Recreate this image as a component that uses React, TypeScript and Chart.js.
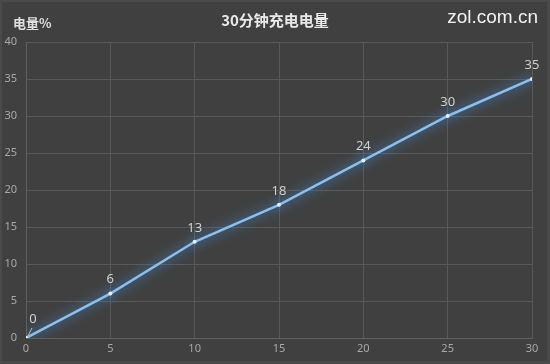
import React, { useEffect, useRef } from "react";
import { Chart, registerables } from "chart.js";

Chart.register(...registerables);

const minutes = [0, 5, 10, 15, 20, 25, 30];
const charge = [0, 6, 13, 18, 24, 30, 35];
const titleText = "30分钟充电电量";
const yLabel = "电量%";
const watermark = "zol.com.cn";

export default function App() {
  const ref = useRef<HTMLCanvasElement>(null);
  useEffect(() => {
    document.body.style.margin = "0";
    const canvas = ref.current!;
    const bgPlugin = {
      id: "bg",
      beforeDraw(chart: any) {
        const ctx = chart.ctx;
        ctx.save();
        ctx.fillStyle = "#4a4a4a";
        ctx.fillRect(0, 0, chart.width, chart.height);
        ctx.fillStyle = "#404040";
        ctx.fillRect(2, 2, chart.width - 5, chart.height - 5);
        ctx.restore();
      },
      afterDraw(chart: any) {
        const ctx = chart.ctx;
        ctx.save();
        ctx.fillStyle = "#e8e8e8";
        ctx.textBaseline = "middle";
        ctx.textAlign = "center";
        ctx.font = "bold 15px 'Noto Sans CJK SC', sans-serif";
        ctx.fillText(titleText, 275, 20);
        ctx.textAlign = "left";
        ctx.font = "bold 13px 'Noto Sans CJK SC', sans-serif";
        ctx.fillStyle = "#e0e0e0";
        ctx.fillText(yLabel, 13, 23);
        ctx.font = "19px 'Liberation Sans', Arial, sans-serif";
        ctx.fillStyle = "#f2f2f2";
        ctx.textAlign = "right";
        ctx.fillText(watermark, 538, 18);
        // data labels
        const meta = chart.getDatasetMeta(0);
        ctx.font = "13px 'Noto Sans', sans-serif";
        ctx.fillStyle = "#d0d0d0";
        ctx.textAlign = "center";
        meta.data.forEach((pt: any, i: number) => {
          const v = charge[i];
          if (i === 0) {
            ctx.strokeStyle = "#bbbbbb";
            ctx.lineWidth = 1;
            ctx.beginPath();
            ctx.moveTo(pt.x + 2, pt.y - 2);
            ctx.lineTo(pt.x + 6, pt.y - 10);
            ctx.stroke();
            ctx.fillText(String(v), pt.x + 7, pt.y - 19);
          } else {
            ctx.fillText(String(v), pt.x, pt.y - 14);
          }
        });
        ctx.restore();
      },
    };
    const glowPlugin = {
      id: "glow",
      beforeDatasetDraw(chart: any) {
        const ctx = chart.ctx;
        ctx.save();
        ctx.shadowColor = "rgba(70,160,255,1)";
        ctx.shadowBlur = 12;
      },
      afterDatasetDraw(chart: any) {
        chart.ctx.restore();
      },
    };
    const chart = new Chart(canvas, {
      type: "line",
      data: {
        labels: minutes,
        datasets: [
          {
            data: minutes.map((m, i) => ({ x: m, y: charge[i] })),
            borderColor: "#8cc0ef",
            borderWidth: 2.5,
            pointRadius: 2,
            pointBackgroundColor: "#e3f1ff",
            pointBorderWidth: 0,
            tension: 0,
          },
        ],
      },
      options: {
        animation: false,
        responsive: false,
        maintainAspectRatio: false,
        layout: { padding: { left: 0, right: 18, top: 42, bottom: 0 } },
        plugins: { legend: { display: false }, title: { display: false }, tooltip: { enabled: false } },
        scales: {
          x: {
            type: "linear",
            min: 0,
            max: 30,
            ticks: { stepSize: 5, color: "#a8a8a8", font: { size: 11, family: "'Noto Sans', sans-serif" }, padding: 4 },
            grid: { color: "#595959", lineWidth: 1, drawTicks: false },
            border: { color: "#606060" },
            afterFit(s: any) {
              s.height = 26;
            },
          },
          y: {
            min: 0,
            max: 40,
            ticks: { stepSize: 5, color: "#a8a8a8", font: { size: 11, family: "'Noto Sans', sans-serif" }, padding: 9 },
            grid: { color: "#595959", lineWidth: 1, drawTicks: false },
            border: { color: "#606060" },
            afterFit(s: any) {
              s.width = 26;
            },
          },
        },
      },
      plugins: [bgPlugin, glowPlugin],
    } as any);
    return () => chart.destroy();
  }, []);
  return <canvas ref={ref} width={550} height={364} style={{ display: "block" }} />;
}
